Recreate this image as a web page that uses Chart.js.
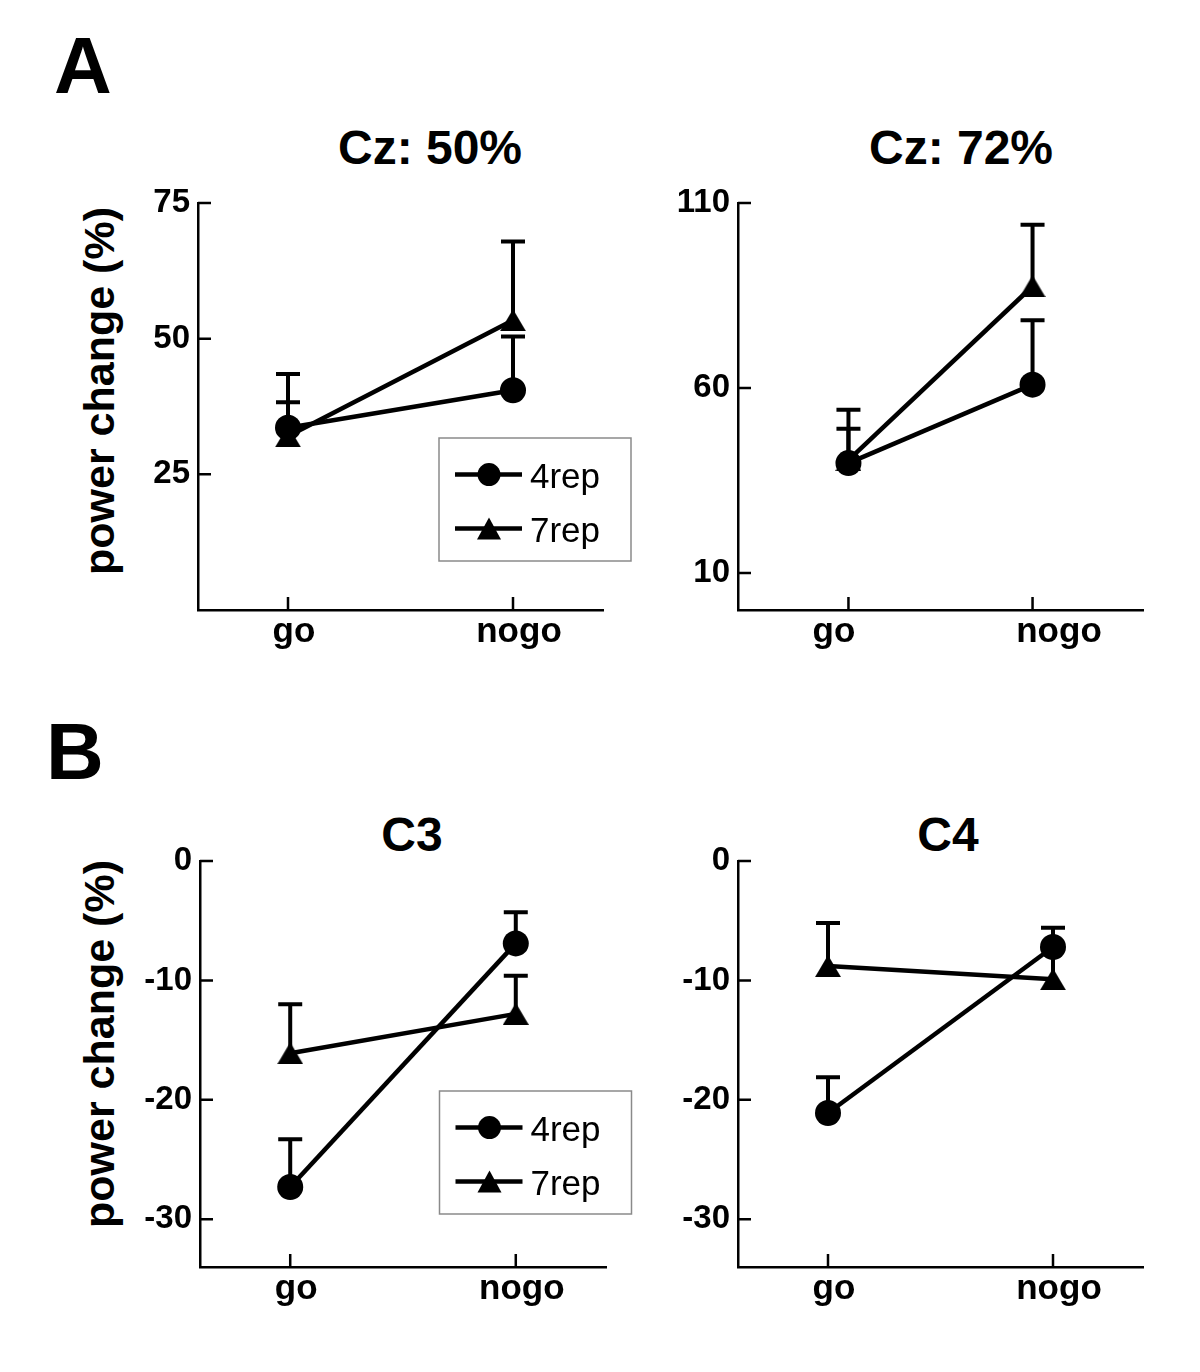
<!DOCTYPE html>
<html>
<head>
<meta charset="utf-8">
<script src="https://cdn.jsdelivr.net/npm/chart.js@4.4.0/dist/chart.umd.min.js"></script>
<style>
body { margin: 0; background: #fff; width: 1200px; height: 1372px; position: relative; overflow: hidden; font-family: "Liberation Sans", Arial, sans-serif; }
canvas { position: absolute; }
.lbl { position: absolute; font-weight: bold; line-height: 1; white-space: nowrap; color: #000; }
.letter { font-size: 80px; }
.ttl { font-size: 48px; transform: translateX(-50%); }
.ytl { font-size: 43px; transform: translate(-50%, -50%) rotate(-90deg); }
</style>
</head>
<body>
<div class="lbl letter" style="left:54px;top:26px">A</div>
<div class="lbl letter" style="left:46px;top:712px">B</div>
<div class="lbl ttl" style="left:430px;top:124px">Cz: 50%</div>
<div class="lbl ttl" style="left:961px;top:124px">Cz: 72%</div>
<div class="lbl ttl" style="left:412px;top:811px">C3</div>
<div class="lbl ttl" style="left:948px;top:811px">C4</div>
<div class="lbl ytl" style="left:99px;top:391px">power change (%)</div>
<div class="lbl ytl" style="left:99px;top:1044px">power change (%)</div>

<script>
const categories = ['go', 'nogo'];
const seriesNames = ['4rep', '7rep'];
const xPos = [1, 2];

// Cz: 50%
const cz50_4rep = [33.6, 40.5];
const cz50_4repErr = [9.9, 9.9];
const cz50_7rep = [32.0, 53.4];
const cz50_7repErr = [6.3, 14.5];
const cz50Ticks = [25, 50, 75];

// Cz: 72%
const cz72_4rep = [39.7, 60.9];
const cz72_4repErr = [14.4, 17.4];
const cz72_7rep = [40.5, 87.5];
const cz72_7repErr = [8.5, 16.6];
const cz72Ticks = [10, 60, 110];

// C3
const c3_4rep = [-27.3, -6.9];
const c3_4repErr = [4.0, 2.6];
const c3_7rep = [-16.1, -12.8];
const c3_7repErr = [4.1, 3.2];

// C4
const c4_4rep = [-21.1, -7.2];
const c4_4repErr = [3.0, 1.6];
const c4_7rep = [-8.8, -9.9];
const c4_7repErr = [3.6, 2.9];

const cTicks = [-30, -20, -10, 0];

Chart.defaults.font.family = '"Liberation Sans", Arial, sans-serif';
Chart.defaults.color = '#000';

// triangle marker, centred on its bounding box
const tri = document.createElement('canvas');
tri.width = 26; tri.height = 22;
(function () {
    const c = tri.getContext('2d');
    c.fillStyle = '#000';
    c.beginPath();
    c.moveTo(13, 0); c.lineTo(26, 22); c.lineTo(0, 22);
    c.closePath();
    c.fill();
})();

const padL = 80, padT = 40, padR = 30, padB = 60;

// error bars, inward ticks and the boxed legend
const panelDecor = {
    id: 'panelDecor',
    beforeDatasetsDraw(chart) {
        const { ctx, chartArea } = chart;
        const xs = chart.scales.x, ys = chart.scales.y;
        ctx.save();
        ctx.strokeStyle = '#000';
        ctx.lineWidth = 2.5;
        ctx.beginPath();
        ys.ticks.forEach(t => {
            const py = ys.getPixelForValue(t.value);
            ctx.moveTo(chartArea.left, py);
            ctx.lineTo(chartArea.left + 13, py);
        });
        xPos.forEach(v => {
            const px = xs.getPixelForValue(v);
            ctx.moveTo(px, chartArea.bottom);
            ctx.lineTo(px, chartArea.bottom - 13);
        });
        ctx.stroke();

        ctx.lineWidth = 4;
        chart.data.datasets.forEach(ds => {
            ds.data.forEach((p, i) => {
                const px = xs.getPixelForValue(p.x);
                const y0 = ys.getPixelForValue(p.y);
                const y1 = ys.getPixelForValue(p.y + ds.errUp[i]);
                ctx.beginPath();
                ctx.moveTo(px, y0); ctx.lineTo(px, y1);
                ctx.moveTo(px - 12, y1); ctx.lineTo(px + 12, y1);
                ctx.stroke();
            });
        });
        ctx.restore();
    },
    afterDraw(chart, args, opts) {
        const L = opts.legend;
        if (!L) return;
        const { ctx, chartArea } = chart;
        const bx = chartArea.left + L.x, by = chartArea.top + L.y;
        ctx.save();
        ctx.strokeStyle = '#8a8a8a';
        ctx.lineWidth = 1.5;
        ctx.strokeRect(bx, by, 192, 123);
        ctx.fillStyle = '#000';
        ctx.strokeStyle = '#000';
        ctx.font = '35px "Liberation Sans", Arial, sans-serif';
        ctx.textBaseline = 'alphabetic';
        seriesNames.forEach((name, k) => {
            const ry = by + (k === 0 ? 36.6 : 90.6);
            ctx.lineWidth = 4.5;
            ctx.beginPath();
            ctx.moveTo(bx + 16, ry); ctx.lineTo(bx + 83, ry);
            ctx.stroke();
            const mx = bx + 50;
            ctx.beginPath();
            if (k === 0) {
                ctx.arc(mx, ry, 11.5, 0, Math.PI * 2);
            } else {
                ctx.moveTo(mx, ry - 11); ctx.lineTo(mx + 12, ry + 11); ctx.lineTo(mx - 12, ry + 11);
                ctx.closePath();
            }
            ctx.fill();
            ctx.fillText(name, bx + 91, ry + 13);
        });
        ctx.restore();
    }
};

function makePanel(area, yMin, yMax, yTicks, xMin, xMax, s4, e4, s7, e7, legend) {
    const cv = document.createElement('canvas');
    const w = (area.right - area.left) + padL + padR;
    const h = (area.bottom - area.top) + padT + padB;
    cv.width = w; cv.height = h;
    cv.style.left = (area.left - padL) + 'px';
    cv.style.top = (area.top - padT) + 'px';
    cv.style.width = w + 'px';
    cv.style.height = h + 'px';
    document.body.appendChild(cv);

    new Chart(cv, {
        type: 'line',
        data: {
            datasets: [{
                label: seriesNames[0],
                data: xPos.map((x, i) => ({ x: x, y: s4[i] })),
                errUp: e4,
                borderColor: '#000',
                backgroundColor: '#000',
                borderWidth: 4.5,
                pointStyle: 'circle',
                pointRadius: 13,
                pointBorderWidth: 0,
                pointBackgroundColor: '#000',
                tension: 0
            }, {
                label: seriesNames[1],
                data: xPos.map((x, i) => ({ x: x, y: s7[i] })),
                errUp: e7,
                borderColor: '#000',
                backgroundColor: '#000',
                borderWidth: 4.5,
                pointStyle: tri,
                pointRadius: 13,
                pointBorderWidth: 0,
                tension: 0
            }]
        },
        options: {
            responsive: false,
            animation: false,
            events: [],
            layout: { padding: { top: padT, right: padR, left: 0, bottom: 0 } },
            plugins: {
                legend: { display: false },
                tooltip: { enabled: false },
                panelDecor: { legend: legend }
            },
            scales: {
                x: { type: 'linear', min: xMin, max: xMax, display: false },
                xl: {
                    type: 'linear', position: 'bottom', min: 0.6, max: 2.4,
                    grid: { display: false, drawTicks: false },
                    border: { display: true, color: '#000', width: 2.5 },
                    ticks: {
                        font: { size: 35, weight: 'bold' },
                        padding: 1,
                        labelOffset: 6,
                        maxRotation: 0,
                        autoSkip: false,
                        callback: v => categories[Math.round(v) - 1] || ''
                    },
                    afterBuildTicks: s => { s.ticks = xPos.map(v => ({ value: v })); },
                    afterFit: s => { s.height = padB; }
                },
                y: {
                    type: 'linear', position: 'left', min: yMin, max: yMax,
                    grid: { display: false, drawTicks: false },
                    border: { display: true, color: '#000', width: 2.5 },
                    ticks: {
                        font: { size: 33, weight: 'bold' },
                        padding: 8,
                        callback: v => String(v)
                    },
                    afterBuildTicks: s => { s.ticks = yTicks.slice().sort((a, b) => a - b).map(v => ({ value: v })); },
                    afterFit: s => { s.width = padL; }
                }
            }
        },
        plugins: [panelDecor]
    });
}

makePanel({ left: 198, top: 203, right: 603, bottom: 610 }, 0, 75, cz50Ticks, 0.6, 2.4,
    cz50_4rep, cz50_4repErr, cz50_7rep, cz50_7repErr, { x: 241, y: 235 });
makePanel({ left: 738, top: 203, right: 1143, bottom: 610 }, 0, 110, cz72Ticks, 0.4, 2.6,
    cz72_4rep, cz72_4repErr, cz72_7rep, cz72_7repErr, null);
makePanel({ left: 200, top: 861, right: 606, bottom: 1267 }, -34, 0, cTicks, 0.6, 2.4,
    c3_4rep, c3_4repErr, c3_7rep, c3_7repErr, { x: 239.5, y: 230 });
makePanel({ left: 738, top: 861, right: 1143, bottom: 1267 }, -34, 0, cTicks, 0.6, 2.4,
    c4_4rep, c4_4repErr, c4_7rep, c4_7repErr, null);
</script>
</body>
</html>
